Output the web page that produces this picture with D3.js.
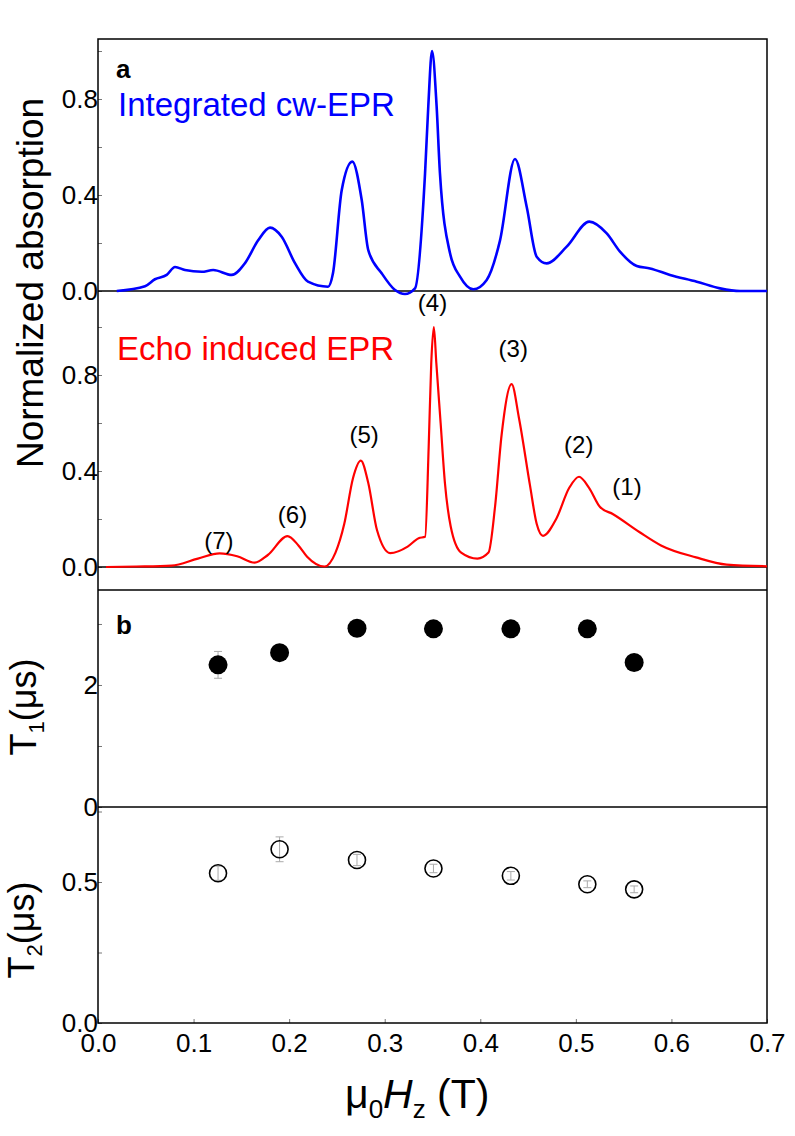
<!DOCTYPE html>
<html><head><meta charset="utf-8">
<script src="https://cdn.jsdelivr.net/npm/d3@7"></script>
<style>
body{margin:0;background:#fff;}
text{font-family:"Liberation Sans",Arial,sans-serif;}
</style></head>
<body>
<svg id="c" width="795" height="1136"></svg>
<script>
// ---- data ----
const blueField = [0.0196,0.0492,0.0596,0.0719,0.0806,0.0910,0.1085,0.1206,0.1399,0.1538,0.1674,0.1800,0.1922,0.2061,0.2197,0.2407,0.2459,0.2550,0.2661,0.2759,0.2828,0.2968,0.3108,0.3212,0.3317,0.3422,0.3456,0.3495,0.3543,0.3578,0.3683,0.3788,0.3927,0.4067,0.4206,0.4363,0.4486,0.4590,0.4695,0.4904,0.5141,0.5323,0.5462,0.5637,0.5776,0.5985,0.6265,0.6509,0.6718,0.7];
const blueAbs   = [0,0.02,0.049,0.067,0.10,0.0875,0.08,0.0875,0.067,0.116,0.21,0.264,0.226,0.116,0.039,0.018,0.075,0.42,0.539,0.38,0.17,0.074,0.004,-0.0125,0.011,0.49,0.77,1.0,0.77,0.49,0.158,0.06,0.007,0.046,0.21,0.55,0.35,0.143,0.115,0.185,0.289,0.24,0.164,0.104,0.094,0.067,0.039,0.011,0,0];
const redField = [0.0084,0.040,0.077,0.1045,0.1273,0.1456,0.164,0.1777,0.1983,0.2097,0.2188,0.2371,0.2485,0.2577,0.2668,0.2750,0.2828,0.2919,0.3057,0.3240,0.3355,0.3423,0.3460,0.3487,0.3514,0.3540,0.3585,0.3630,0.3690,0.3800,0.3970,0.4086,0.4154,0.4223,0.4328,0.4405,0.4520,0.4590,0.4656,0.4794,0.4931,0.5033,0.5138,0.5253,0.5390,0.5664,0.5891,0.6257,0.6578,0.7];
const redAbs   = [0,0.002,0.006,0.035,0.057,0.045,0.018,0.05,0.129,0.09,0.043,0.002,0.06,0.18,0.37,0.443,0.35,0.154,0.058,0.085,0.12,0.126,0.5,0.85,1.0,0.85,0.6,0.35,0.17,0.06,0.035,0.06,0.25,0.55,0.762,0.62,0.34,0.18,0.13,0.20,0.33,0.376,0.33,0.25,0.22,0.146,0.09,0.04,0.01,0.003];
const peakLabels = ["(7)","(6)","(5)","(4)","(3)","(2)","(1)"];
const peakField  = [0.1265,0.2035,0.2785,0.3500,0.4345,0.5030,0.5535];
const peakAbs    = [0.075,0.185,0.515,1.065,0.875,0.475,0.30];
const relaxField = [0.1256,0.190,0.271,0.351,0.432,0.512,0.561];
const T1 = [2.33,2.53,2.93,2.92,2.92,2.92,2.37];
const T1err = [0.22,0.05,0.04,0.04,0.04,0.04,0.04];
const T2 = [0.531,0.616,0.578,0.548,0.522,0.492,0.474];
const T2err = [0.025,0.044,0.02,0.015,0.015,0.012,0.012];
const xTicks = [0,0.1,0.2,0.3,0.4,0.5,0.6,0.7];
const absTicks = [0,0.4,0.8];
const T1Ticks = [0,2];
const T2Ticks = [0,0.5];

// ---- layout ----
const L=98,R=767,T=39,B=1023;
const svg=d3.select("#c");
const x=d3.scaleLinear([0,0.7],[L,R]);
const yB=d3.scaleLinear([0,1.05],[291,T]);
const yR=d3.scaleLinear([0,1.15],[567,291]);
const y1=d3.scaleLinear([0,3.557],[807,590]);
const y2=d3.scaleLinear([0,0.766],[B,807]);

function yAxis(scale,ticks,minor,fmt){
  const all=d3.range(scale.domain()[0],scale.domain()[1]+1e-9,minor).map(v=>+v.toFixed(4));
  const g=svg.append("g").attr("transform",`translate(${L},0)`)
    .call(d3.axisLeft(scale).tickValues(all).tickSizeInner(-4).tickSizeOuter(0).tickPadding(0)
      .tickFormat(v=>ticks.some(t=>Math.abs(t-v)<1e-6)?fmt(v):""));
  g.select(".domain").remove();
  g.selectAll(".tick line").attr("stroke","#777");
  g.selectAll("text").attr("font-size",26).attr("fill","#000");
}
yAxis(yB,absTicks,0.2,d3.format(".1f"));
yAxis(yR,absTicks,0.2,d3.format(".1f"));
yAxis(y1,T1Ticks,1,d3.format("d"));
yAxis(y2,T2Ticks,0.25,d3.format(".1f"));

const gx=svg.append("g").attr("transform",`translate(0,${B})`)
  .call(d3.axisBottom(x).tickValues(xTicks).tickSizeInner(-4).tickSizeOuter(0).tickPadding(11).tickFormat(d3.format(".1f")));
gx.select(".domain").remove();
gx.selectAll(".tick line").attr("stroke","#777");
gx.selectAll("text").attr("font-size",26).attr("fill","#000");

// frame and separators
svg.append("rect").attr("x",L).attr("y",T).attr("width",R-L).attr("height",B-T)
  .attr("fill","none").attr("stroke","#000").attr("stroke-width",1.5);
[[yB(0)],[yR(0)],[590],[y1(0)]].forEach(([yy])=>{
  svg.append("line").attr("x1",L).attr("x2",R).attr("y1",yy).attr("y2",yy)
    .attr("stroke","#000").attr("stroke-width",1.5);
});

// curves
const blue=blueField.map((f,i)=>[f,blueAbs[i]]);
const red=redField.map((f,i)=>[f,redAbs[i]]);
svg.append("path").datum(blue).attr("fill","none").attr("stroke","#0000ff").attr("stroke-width",2.6)
  .attr("d",d3.line().x(d=>x(d[0])).y(d=>yB(d[1])).curve(d3.curveMonotoneX));
svg.append("path").datum(red).attr("fill","none").attr("stroke","#ff0000").attr("stroke-width",2.2)
  .attr("d",d3.line().x(d=>x(d[0])).y(d=>yR(d[1])).curve(d3.curveMonotoneX));

// text labels panel a
svg.append("text").attr("x",116).attr("y",78).attr("font-size",26).attr("font-weight","bold").text("a");
svg.append("text").attr("x",118).attr("y",116).attr("font-size",33).attr("fill","#0000ff").text("Integrated cw-EPR");
svg.append("text").attr("x",117).attr("y",360).attr("font-size",33).attr("fill","#ff0000").text("Echo induced EPR");
svg.selectAll(".pk").data(peakLabels).join("text").attr("class","pk")
  .attr("x",(d,i)=>x(peakField[i])).attr("y",(d,i)=>yR(peakAbs[i]))
  .attr("text-anchor","middle").attr("font-size",24).text(d=>d);

// panel b
svg.append("text").attr("x",116).attr("y",634).attr("font-size",26).attr("font-weight","bold").text("b");
function errbars(vals,errs,sc){
  const g=svg.append("g").attr("stroke","#aaa").attr("stroke-width",1);
  relaxField.forEach((f,i)=>{
    const cx=x(f),a=sc(vals[i]-errs[i]),b=sc(vals[i]+errs[i]);
    g.append("line").attr("x1",cx).attr("x2",cx).attr("y1",a).attr("y2",b);
    g.append("line").attr("x1",cx-4).attr("x2",cx+4).attr("y1",a).attr("y2",a);
    g.append("line").attr("x1",cx-4).attr("x2",cx+4).attr("y1",b).attr("y2",b);
  });
}
errbars(T1,T1err,y1);
svg.selectAll(".t1").data(T1).join("circle").attr("class","t1")
  .attr("cx",(d,i)=>x(relaxField[i])).attr("cy",d=>y1(d)).attr("r",9.5).attr("fill","#000");
errbars(T2,T2err,y2);
svg.selectAll(".t2").data(T2).join("circle").attr("class","t2")
  .attr("cx",(d,i)=>x(relaxField[i])).attr("cy",d=>y2(d)).attr("r",8.5)
  .attr("fill","none").attr("stroke","#000").attr("stroke-width",1.6);

// axis titles
svg.append("text").attr("transform","translate(43,283) rotate(-90)").attr("text-anchor","middle")
  .attr("font-size",37).text("Normalized absorption");
function relTitle(cx,cy,sub){
  const t=svg.append("text").attr("transform",`translate(${cx},${cy}) rotate(-90)`).attr("text-anchor","middle").attr("font-size",36);
  t.append("tspan").text("T");
  t.append("tspan").attr("font-size",22).attr("dy",8).text(sub);
  t.append("tspan").attr("dy",-8).text("(μs)");
}
relTitle(36,707,"1");
relTitle(34,930,"2");
const xt=svg.append("text").attr("x",345).attr("y",1108).attr("font-size",41);
xt.append("tspan").text("μ");
xt.append("tspan").attr("font-size",26).attr("dy",10).text("0");
xt.append("tspan").attr("dy",-10).attr("font-style","italic").text("H");
xt.append("tspan").attr("font-size",26).attr("dy",10).text("z");
xt.append("tspan").attr("dy",-10).text(" (T)");
</script>
</body></html>
